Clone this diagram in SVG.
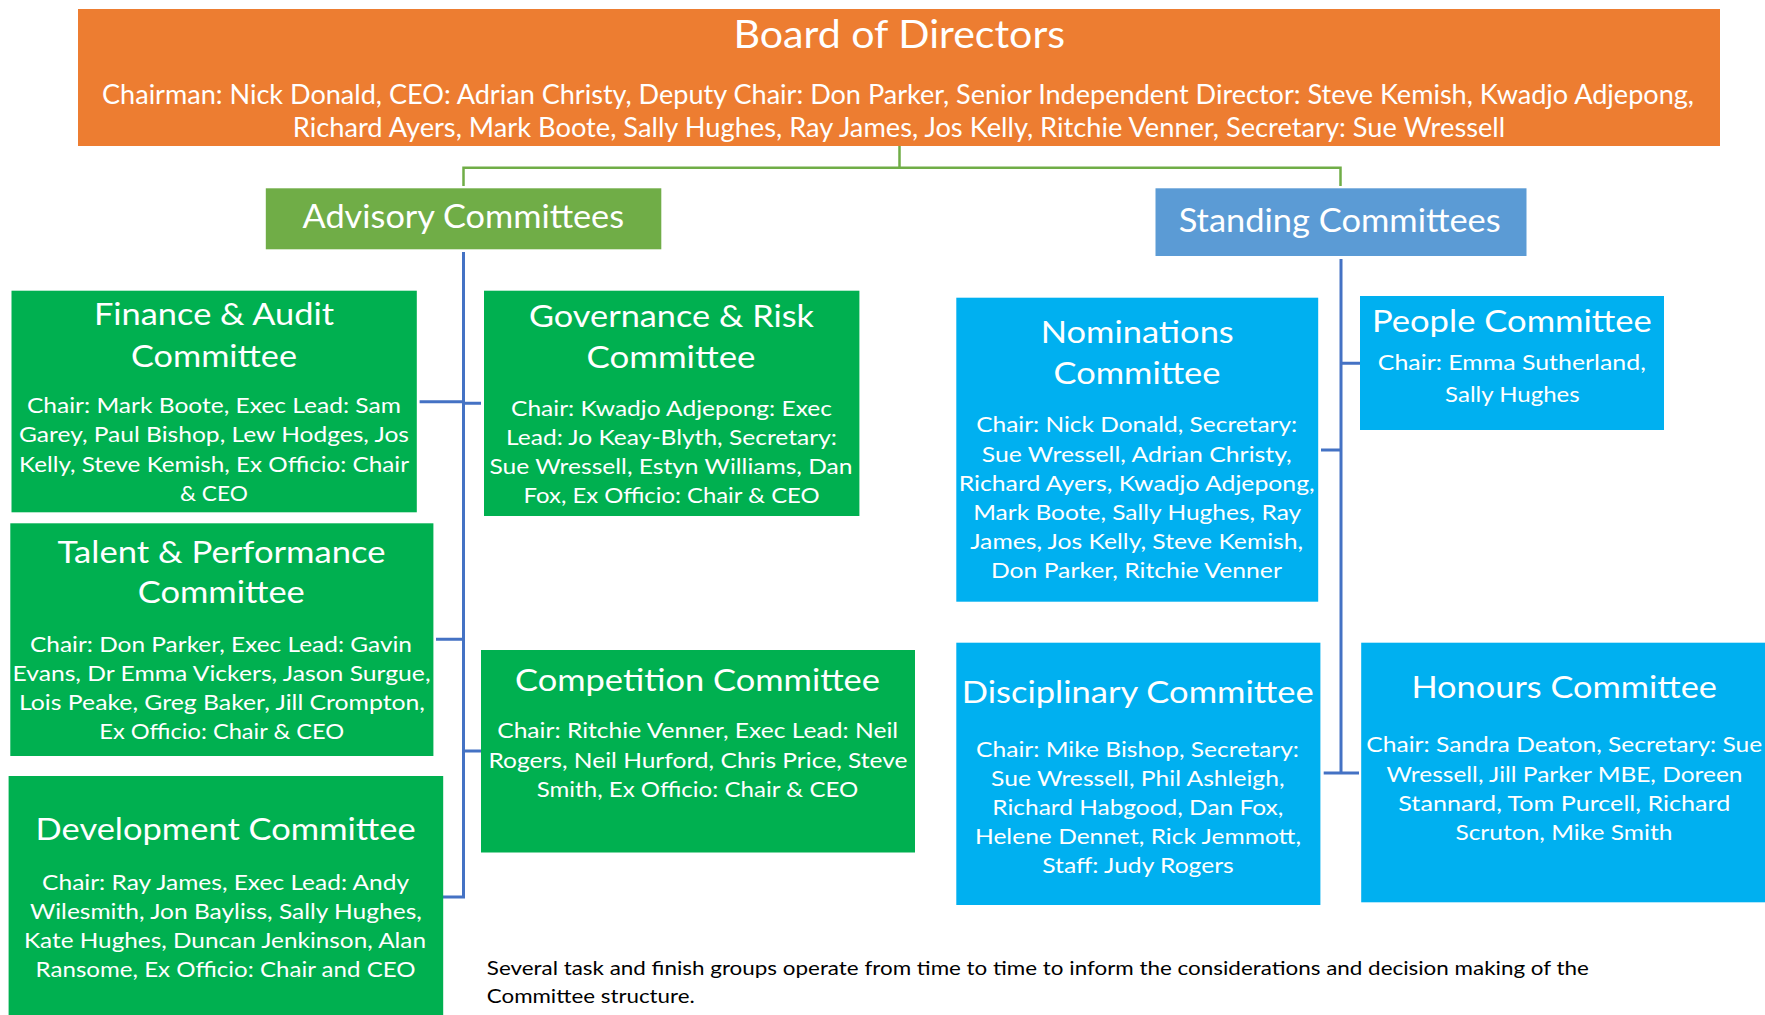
<svg xmlns="http://www.w3.org/2000/svg" width="1765" height="1015" viewBox="0 0 1765 1015">
<style>
text{font-family:Lato,"Open Sans","Liberation Sans",sans-serif;fill:#fff;text-anchor:middle}
.bt{font-size:38px}
.bs{font-size:26px}
.sec{font-size:32px}
.t{font-size:31px}
.b{font-size:21px}
.note{font-size:19px;fill:#000;text-anchor:start}
.orange{fill:#ED7D31}
.adv{fill:#70AD47}
.std{fill:#5B9BD5}
.g{fill:#00B050}
.bl{fill:#00B0F0}
.cg{stroke:#70AD47;stroke-width:2.5;fill:none}
.cb{stroke:#4472C4;stroke-width:3;fill:none}
</style>
<g id="connectors">
<path class="cg" d="M899.5 146V167.7M463.5 167.7H1340.5M463.5 166.5V186M1340.5 166.5V186"/>
<path class="cb" d="M463.5 252V898.5M419.6 401.7H463.5M463.5 403.3H481M436 639.3H463.5M463.5 751H481M443 897H463.5"/>
<path class="cb" d="M1341 259V774.5M1321 450H1341M1341 363.3H1360M1323.7 773H1359"/>
</g>
<g id="board">
<rect class="orange" x="78" y="9" width="1642" height="137"/>
<text class="bt" x="899.3" y="48.3" textLength="331.5" lengthAdjust="spacingAndGlyphs">Board of Directors</text>
<text class="bs" x="898" y="104" textLength="1592" lengthAdjust="spacingAndGlyphs">Chairman: Nick Donald, CEO: Adrian Christy, Deputy Chair: Don Parker, Senior Independent Director: Steve Kemish, Kwadjo Adjepong,</text>
<text class="bs" x="899" y="137" textLength="1212.5" lengthAdjust="spacingAndGlyphs">Richard Ayers, Mark Boote, Sally Hughes, Ray James, Jos Kelly, Ritchie Venner, Secretary: Sue Wressell</text>
</g>
<g id="advisory">
<rect class="adv" x="265.8" y="188.3" width="395.5" height="61"/>
<text class="sec" x="463.3" y="228.3" textLength="321.5" lengthAdjust="spacingAndGlyphs">Advisory Committees</text>
</g>
<g id="standing">
<rect class="std" x="1155.5" y="188.3" width="371" height="67.7"/>
<text class="sec" x="1339.7" y="231.5" textLength="322" lengthAdjust="spacingAndGlyphs">Standing Committees</text>
</g>
<g id="finance">
<rect class="g" x="11.5" y="290.7" width="405.3" height="221.6"/>
<text class="t" x="214" y="325" textLength="240" lengthAdjust="spacingAndGlyphs">Finance &amp; Audit</text>
<text class="t" x="214" y="366.7" textLength="166" lengthAdjust="spacingAndGlyphs">Committee</text>
<text class="b" x="213.9" y="413" textLength="374" lengthAdjust="spacingAndGlyphs">Chair: Mark Boote, Exec Lead: Sam</text>
<text class="b" x="214" y="442" textLength="390" lengthAdjust="spacingAndGlyphs">Garey, Paul Bishop, Lew Hodges, Jos</text>
<text class="b" x="214" y="471.7" textLength="390" lengthAdjust="spacingAndGlyphs">Kelly, Steve Kemish, Ex Officio: Chair</text>
<text class="b" x="213.9" y="500.7" textLength="68" lengthAdjust="spacingAndGlyphs">&amp; CEO</text>
</g>
<g id="governance">
<rect class="g" x="484" y="290.7" width="375.4" height="225.3"/>
<text class="t" x="671.5" y="327.3" textLength="285" lengthAdjust="spacingAndGlyphs">Governance &amp; Risk</text>
<text class="t" x="671" y="368.3" textLength="169" lengthAdjust="spacingAndGlyphs">Committee</text>
<text class="b" x="671.5" y="415.7" textLength="321" lengthAdjust="spacingAndGlyphs">Chair: Kwadjo Adjepong: Exec</text>
<text class="b" x="671.5" y="445" textLength="331" lengthAdjust="spacingAndGlyphs">Lead: Jo Keay-Blyth, Secretary:</text>
<text class="b" x="671" y="474" textLength="363" lengthAdjust="spacingAndGlyphs">Sue Wressell, Estyn Williams, Dan</text>
<text class="b" x="671.6" y="503.3" textLength="296" lengthAdjust="spacingAndGlyphs">Fox, Ex Officio: Chair &amp; CEO</text>
</g>
<g id="talent">
<rect class="g" x="10.3" y="523.3" width="423.1" height="232.7"/>
<text class="t" x="221.6" y="563.3" textLength="328" lengthAdjust="spacingAndGlyphs">Talent &amp; Performance</text>
<text class="t" x="221.3" y="603.3" textLength="167" lengthAdjust="spacingAndGlyphs">Committee</text>
<text class="b" x="221" y="651.7" textLength="382" lengthAdjust="spacingAndGlyphs">Chair: Don Parker, Exec Lead: Gavin</text>
<text class="b" x="221.5" y="681" textLength="418" lengthAdjust="spacingAndGlyphs">Evans, Dr Emma Vickers, Jason Surgue,</text>
<text class="b" x="222" y="710" textLength="406" lengthAdjust="spacingAndGlyphs">Lois Peake, Greg Baker, Jill Crompton,</text>
<text class="b" x="221.8" y="739" textLength="245" lengthAdjust="spacingAndGlyphs">Ex Officio: Chair &amp; CEO</text>
</g>
<g id="competition">
<rect class="g" x="481" y="650" width="434" height="202.5"/>
<text class="t" x="697.5" y="690.7" textLength="365" lengthAdjust="spacingAndGlyphs">Competition Committee</text>
<text class="b" x="697.7" y="738.3" textLength="401" lengthAdjust="spacingAndGlyphs">Chair: Ritchie Venner, Exec Lead: Neil</text>
<text class="b" x="698" y="767.7" textLength="419" lengthAdjust="spacingAndGlyphs">Rogers, Neil Hurford, Chris Price, Steve</text>
<text class="b" x="697.5" y="796.7" textLength="321.5" lengthAdjust="spacingAndGlyphs">Smith, Ex Officio: Chair &amp; CEO</text>
</g>
<g id="development">
<rect class="g" x="8.6" y="776" width="434.6" height="239"/>
<text class="t" x="225.6" y="840" textLength="380" lengthAdjust="spacingAndGlyphs">Development Committee</text>
<text class="b" x="225.6" y="890" textLength="367" lengthAdjust="spacingAndGlyphs">Chair: Ray James, Exec Lead: Andy</text>
<text class="b" x="225.9" y="919.3" textLength="392" lengthAdjust="spacingAndGlyphs">Wilesmith, Jon Bayliss, Sally Hughes,</text>
<text class="b" x="225" y="948.3" textLength="402" lengthAdjust="spacingAndGlyphs">Kate Hughes, Duncan Jenkinson, Alan</text>
<text class="b" x="225.6" y="977.3" textLength="380" lengthAdjust="spacingAndGlyphs">Ransome, Ex Officio: Chair and CEO</text>
</g>
<g id="nominations">
<rect class="bl" x="956.3" y="297.7" width="361.9" height="304"/>
<text class="t" x="1137.3" y="342.7" textLength="193" lengthAdjust="spacingAndGlyphs">Nominations</text>
<text class="t" x="1137" y="384.3" textLength="167" lengthAdjust="spacingAndGlyphs">Committee</text>
<text class="b" x="1136.7" y="432.3" textLength="321" lengthAdjust="spacingAndGlyphs">Chair: Nick Donald, Secretary:</text>
<text class="b" x="1136.7" y="461.7" textLength="310" lengthAdjust="spacingAndGlyphs">Sue Wressell, Adrian Christy,</text>
<text class="b" x="1136.7" y="490.7" textLength="356" lengthAdjust="spacingAndGlyphs">Richard Ayers, Kwadjo Adjepong,</text>
<text class="b" x="1137.2" y="520" textLength="328" lengthAdjust="spacingAndGlyphs">Mark Boote, Sally Hughes, Ray</text>
<text class="b" x="1136.7" y="549" textLength="333" lengthAdjust="spacingAndGlyphs">James, Jos Kelly, Steve Kemish,</text>
<text class="b" x="1136.4" y="578.3" textLength="291" lengthAdjust="spacingAndGlyphs">Don Parker, Ritchie Venner</text>
</g>
<g id="people">
<rect class="bl" x="1360" y="296" width="304" height="134"/>
<text class="t" x="1511.9" y="331.7" textLength="280" lengthAdjust="spacingAndGlyphs">People Committee</text>
<text class="b" x="1511.8" y="370" textLength="268" lengthAdjust="spacingAndGlyphs">Chair: Emma Sutherland,</text>
<text class="b" x="1512.4" y="401.7" textLength="134.6" lengthAdjust="spacingAndGlyphs">Sally Hughes</text>
</g>
<g id="disciplinary">
<rect class="bl" x="956.3" y="642.7" width="364.1" height="262.3"/>
<text class="t" x="1137.8" y="702.7" textLength="352" lengthAdjust="spacingAndGlyphs">Disciplinary Committee</text>
<text class="b" x="1137.5" y="756.7" textLength="323" lengthAdjust="spacingAndGlyphs">Chair: Mike Bishop, Secretary:</text>
<text class="b" x="1137.8" y="786" textLength="293.5" lengthAdjust="spacingAndGlyphs">Sue Wressell, Phil Ashleigh,</text>
<text class="b" x="1137.8" y="815" textLength="291" lengthAdjust="spacingAndGlyphs">Richard Habgood, Dan Fox,</text>
<text class="b" x="1138" y="844.3" textLength="326" lengthAdjust="spacingAndGlyphs">Helene Dennet, Rick Jemmott,</text>
<text class="b" x="1138" y="873.3" textLength="191.5" lengthAdjust="spacingAndGlyphs">Staff: Judy Rogers</text>
</g>
<g id="honours">
<rect class="bl" x="1361.2" y="642.7" width="403.8" height="259.6"/>
<text class="t" x="1564.2" y="698.3" textLength="305.6" lengthAdjust="spacingAndGlyphs">Honours Committee</text>
<text class="b" x="1564.3" y="751.7" textLength="396" lengthAdjust="spacingAndGlyphs">Chair: Sandra Deaton, Secretary: Sue</text>
<text class="b" x="1564.5" y="781.7" textLength="356" lengthAdjust="spacingAndGlyphs">Wressell, Jill Parker MBE, Doreen</text>
<text class="b" x="1564.3" y="811" textLength="332" lengthAdjust="spacingAndGlyphs">Stannard, Tom Purcell, Richard</text>
<text class="b" x="1563.9" y="840" textLength="217" lengthAdjust="spacingAndGlyphs">Scruton, Mike Smith</text>
</g>
<g id="footnote">
<text class="note" x="486.8" y="975" textLength="1102" lengthAdjust="spacingAndGlyphs">Several task and finish groups operate from time to time to inform the considerations and decision making of the</text>
<text class="note" x="486.8" y="1003.3" textLength="208" lengthAdjust="spacingAndGlyphs">Committee structure.</text>
</g>
</svg>
